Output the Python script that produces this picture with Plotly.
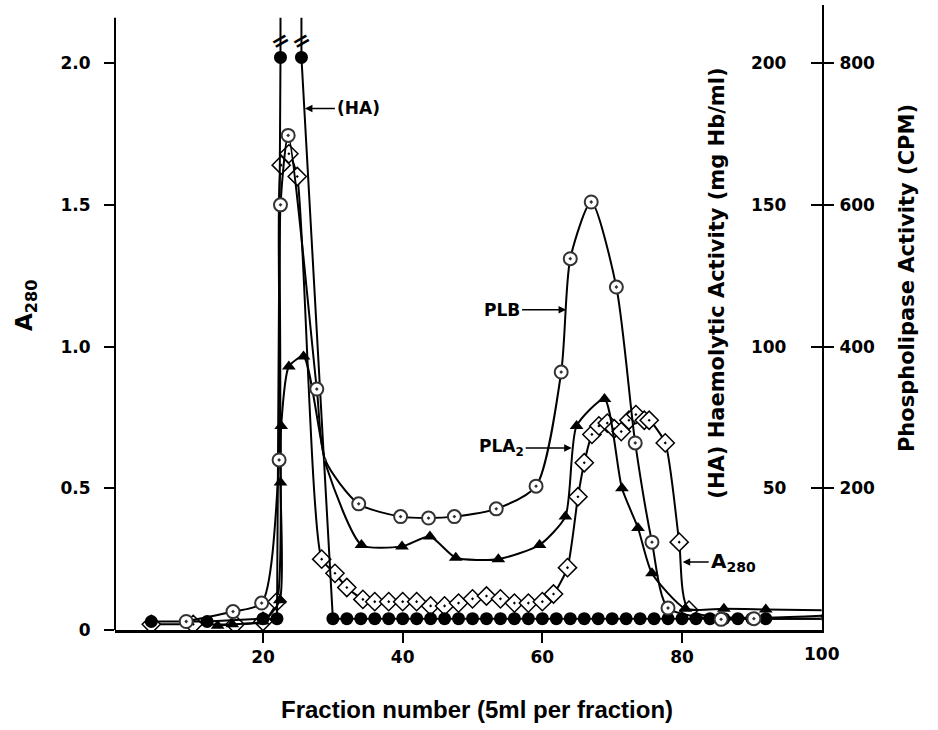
import plotly.graph_objects as go

# ---------------- data ----------------
fraction_ticks = [20, 40, 60, 80, 100]
a280_ticks = [0, 0.5, 1.0, 1.5, 2.0]
a280_ticktext = ["0", "0.5", "1.0", "1.5", "2.0"]
ha_ticks = [50, 100, 150, 200]
cpm_ticks = [200, 400, 600, 800]

# A280 (absorbance) - open diamonds with dot
a280_fraction = [4, 10, 16, 20, 22, 22.6, 23.7, 24.9, 28.4, 30.3, 32, 34.3, 36, 38, 40, 42,
                 44, 46, 48, 50, 52, 54, 56, 58, 60, 61.6, 63.6, 65.1, 66, 67.1, 68.1, 69.3,
                 70.3, 71.3, 72.4, 73.4, 74.6, 75.3, 77.6, 79.6, 81, 100]
a280_abs = [0.02, 0.02, 0.02, 0.03, 0.10, 1.64, 1.68, 1.60, 0.25, 0.20, 0.15, 0.108, 0.10, 0.10,
            0.10, 0.10, 0.085, 0.085, 0.095, 0.11, 0.12, 0.11, 0.095, 0.095, 0.10, 0.127, 0.22,
            0.47, 0.59, 0.69, 0.72, 0.73, 0.71, 0.70, 0.74, 0.76, 0.74, 0.74, 0.66, 0.31, 0.07, 0.05]

# PLA2 activity (CPM) - filled triangles
pla2_fraction = [13.5, 15.6, 20, 22.4, 22.5, 22.6, 23.7, 25.8, 29.1, 34.1, 39.9, 43.9, 47.6,
                 53.7, 59.6, 63.3, 64.9, 68.9, 71.4, 73.7, 75.7, 80.5, 86, 92, 100]
pla2_cpm = [6, 8, 12, 42, 208, 288, 372, 386, 230, 120, 118, 132, 102, 100, 120, 160, 288, 326,
            200, 144, 80, 30, 30, 29, 28]

# PLB activity (CPM) - circles with dot
plb_fraction = [9, 15.7, 19.8, 22.3, 22.5, 23.6, 27.7, 28.9, 33.7, 39.7, 43.7, 47.4, 53.4, 59.1,
                62.7, 64, 67, 70.6, 73.3, 75.7, 78, 85.6, 90.3, 100]
plb_cpm = [12, 26, 38, 240, 600, 698, 340, 240, 178, 160, 158, 160, 171, 203, 364, 524, 604, 484,
           264, 124, 31, 15, 16, 16]

# Haemolytic activity (mg Hb/ml) - filled circles (peak goes off scale)
ha_fraction = [4, 12, 20, 22, 22.5, None, 25.5, 30, 32, 34, 36, 38, 40, 42, 44, 46, 48, 50, 52,
               54, 56, 58, 60, 62, 64, 66, 68, 70, 72, 74, 76, 78, 80, 82, 84, 86, 88, 90, 92, 100]
ha_mg = [3, 3, 4, 4, 202, None, 202, 4, 4, 4, 4, 4, 4, 4, 4, 4, 4, 4, 4, 4, 4, 4, 4, 4, 4, 4,
         4, 4, 4, 4, 4, 4, 4, 4, 4, 4, 4, 4, 4, 4]
ha_break_fraction = [22.5, 25.5]
ha_break_from = 202
ha_break_to = 216
ha_break_mark = 208

# points that only shape the curve (no symbol drawn in the original)
unmarked_fraction = [28.9, 29.1, 100]

# ---------------- scales ----------------
A_RANGE = [0, 2.205]
X_RANGE = [-1.2, 100.05]
HA_PER_A = 100
CPM_PER_A = 400
LEFT_AXIS_TOP = 2.16


def sizes(xs, s):
    return [0 if (x is not None and x in unmarked_fraction) else s for x in xs]


fig = go.Figure()

fig.add_trace(go.Scatter(
    x=a280_fraction, y=a280_abs, yaxis="y", mode="lines+markers",
    line=dict(color="black", width=2, shape="spline", smoothing=0.6),
    marker=dict(symbol="diamond-dot", size=sizes(a280_fraction, 14), color="white", opacity=1,
                line=dict(color="black", width=1.5)),
    hoverinfo="skip"))

fig.add_trace(go.Scatter(
    x=pla2_fraction, y=pla2_cpm, yaxis="y3", mode="lines+markers",
    line=dict(color="black", width=2, shape="spline", smoothing=0.6),
    marker=dict(symbol="triangle-up", size=sizes(pla2_fraction, 12), color="black", opacity=1,
                line=dict(color="black", width=0)),
    hoverinfo="skip"))

fig.add_trace(go.Scatter(
    x=plb_fraction, y=plb_cpm, yaxis="y3", mode="lines+markers",
    line=dict(color="black", width=2, shape="spline", smoothing=0.7),
    marker=dict(symbol="circle-dot", size=sizes(plb_fraction, 13), color="white", opacity=1,
                line=dict(color="#333333", width=2)),
    hoverinfo="skip"))

fig.add_trace(go.Scatter(
    x=ha_fraction, y=ha_mg, yaxis="y2", mode="lines+markers",
    line=dict(color="black", width=2),
    marker=dict(symbol="circle", size=sizes(ha_fraction, 13), color="black", opacity=1,
                line=dict(color="black", width=0)),
    hoverinfo="skip", connectgaps=False))

for bx in ha_break_fraction:
    fig.add_trace(go.Scatter(
        x=[bx, bx], y=[ha_break_from, ha_break_to], yaxis="y2", mode="lines",
        line=dict(color="black", width=2), hoverinfo="skip"))

tickfont = dict(family="DejaVu Sans", size=17, color="black", weight="bold")
labelfont = dict(family="DejaVu Sans", size=17, color="black", weight="bold")

fig.update_layout(
    width=938, height=730,
    margin=dict(l=115, r=116, t=5, b=100),
    paper_bgcolor="white", plot_bgcolor="white", showlegend=False,
    font=dict(family="DejaVu Sans", color="black"),
    xaxis=dict(range=X_RANGE, tickvals=fraction_ticks, ticks="outside", ticklen=10,
               tickwidth=2, tickcolor="black", showline=True, linewidth=3, linecolor="black",
               showgrid=False, zeroline=False, tickfont=tickfont),
    yaxis=dict(range=A_RANGE, tickvals=a280_ticks, ticktext=a280_ticktext, ticks="outside",
               ticklen=10, tickwidth=2, tickcolor="black", showline=False, showgrid=False,
               zeroline=False, tickfont=tickfont, ticklabelstandoff=10),
    yaxis2=dict(overlaying="y", side="right", anchor="x",
                range=[A_RANGE[0] * HA_PER_A, A_RANGE[1] * HA_PER_A],
                tickvals=ha_ticks, ticks="inside", ticklen=11, tickwidth=2, tickcolor="black",
                ticklabelposition="inside", showline=True, linewidth=2, linecolor="black",
                showgrid=False, zeroline=False, tickfont=tickfont, ticklabelstandoff=25),
    yaxis3=dict(overlaying="y", side="right", anchor="x",
                range=[A_RANGE[0] * CPM_PER_A, A_RANGE[1] * CPM_PER_A],
                tickvals=cpm_ticks, ticks="outside", ticklen=11, tickwidth=2, tickcolor="black",
                showline=False, showgrid=False, zeroline=False, tickfont=tickfont,
                ticklabelstandoff=2),
)

# left axis line (stops below the top of the right axis)
fig.add_shape(type="line", xref="paper", yref="y", x0=0, x1=0, y0=0, y1=LEFT_AXIS_TOP,
              line=dict(color="black", width=2))

ann = []
# the last x tick label (hidden by plotly next to the inside right-axis labels)
ann.append(dict(text=str(fraction_ticks[-1]), xref="x", yref="paper", x=fraction_ticks[-1],
                y=-0.0384, yanchor="middle", showarrow=False, font=tickfont))
# axis titles
ann.append(dict(text="A<sub>280</sub>", xref="paper", yref="paper", x=-0.15, y=0.52,
                textangle=-90, showarrow=False,
                font=dict(family="DejaVu Sans", size=23, color="black", weight="bold")))
ann.append(dict(text="Fraction number (5ml per fraction)", xref="paper", yref="paper",
                x=0.512, y=-0.152, showarrow=False,
                font=dict(family="Liberation Sans", size=24, color="black", weight="bold")))
ann.append(dict(text="(HA) Haemolytic Activity (mg Hb/ml)", xref="paper", yref="paper",
                x=0.872, y=0.555, textangle=-90, showarrow=False,
                font=dict(family="DejaVu Sans", size=21, color="black", weight="bold")))
ann.append(dict(text="Phospholipase Activity (CPM)", xref="paper", yref="paper",
                x=1.14, y=0.563, textangle=-90, showarrow=False,
                font=dict(family="DejaVu Sans", size=21, color="black", weight="bold")))

# series labels with arrows
arrow = dict(showarrow=True, arrowhead=2, arrowsize=1, arrowwidth=1.5, arrowcolor="black",
             ayref="pixel", axref="pixel", ay=0, standoff=0)
ann.append(dict(text="(HA)", xref="x", yref="y2", x=26.0, y=184, ax=30, xanchor="left",
                font=labelfont, **arrow))
ann.append(dict(text="PLB", xref="x", yref="y3", x=63.4, y=452, ax=-44, xanchor="right",
                font=labelfont, **arrow))
ann.append(dict(text="PLA<sub>2</sub>", xref="x", yref="y3", x=64.2, y=257, ax=-46,
                xanchor="right", font=labelfont, **arrow))
ann.append(dict(text="A<sub>280</sub>", xref="x", yref="y", x=80.1, y=0.24, ax=26,
                xanchor="left", font=dict(family="DejaVu Sans", size=20, color="black",
                                          weight="bold"), **arrow))

# scale-break marks on the off-scale haemolytic peak
for bx in ha_break_fraction:
    ann.append(dict(text="=", xref="x", yref="y2", x=bx, y=ha_break_mark, showarrow=False,
                    textangle=-30,
                    font=dict(family="DejaVu Sans", size=22, color="black", weight="bold")))

fig.update_layout(annotations=ann)

fig.write_html("out.html")
